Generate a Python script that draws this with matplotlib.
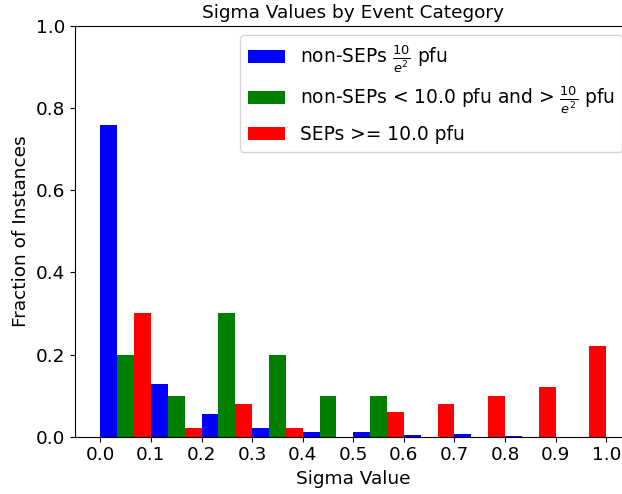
import matplotlib

matplotlib.use("Agg")
import matplotlib.pyplot as plt
import numpy as np

# 直方图分箱（Sigma 值 0~1，每 0.1 一箱）
bin_edges = [0.0, 0.1, 0.2, 0.3, 0.4, 0.5, 0.6, 0.7, 0.8, 0.9, 1.0]

# 各类别每箱所占比例
non_sep_low = [0.76, 0.128, 0.055, 0.021, 0.012, 0.012, 0.005, 0.007, 0.0025, 0.0]
non_sep_mid = [0.20, 0.10, 0.30, 0.20, 0.10, 0.10, 0.0, 0.0, 0.0, 0.0]
sep_high = [0.30, 0.02, 0.08, 0.02, 0.0, 0.06, 0.08, 0.10, 0.12, 0.22]

series_labels = [
    r"non-SEPs $\frac{10}{e^2}$ pfu",
    r"non-SEPs < 10.0 pfu and > $\frac{10}{e^2}$ pfu",
    "SEPs >= 10.0 pfu",
]
series_colors = ["blue", "green", "red"]

plt.rcParams["font.size"] = 13.3

fig = plt.figure(figsize=(6.22, 4.94), dpi=100)
# 右侧坐标轴超出画布（原图右侧被裁掉）
ax = fig.add_axes([75 / 622, 57.3 / 494, 556.6 / 622, 410.7 / 494])

left = np.array(bin_edges[:-1])
width = np.diff(bin_edges) / 3
for i, (vals, lab, col) in enumerate(zip([non_sep_low, non_sep_mid, sep_high], series_labels, series_colors)):
    ax.bar(left + i * width, vals, width=width, align="edge", color=col, label=lab)

ax.set_xlim(-0.05, 1.05)
ax.set_ylim(0, 1.0)
ax.set_xticks(np.arange(0, 1.01, 0.1))
ax.set_yticks(np.arange(0, 1.01, 0.2))
ax.set_title("Sigma Values by Event Category", fontsize=13.3)
ax.set_xlabel("Sigma Value")
ax.set_ylabel("Fraction of Instances")
ax.legend(loc="upper right", fontsize=13.4)

fig.savefig("out.png", dpi=100)
plt.close(fig)
